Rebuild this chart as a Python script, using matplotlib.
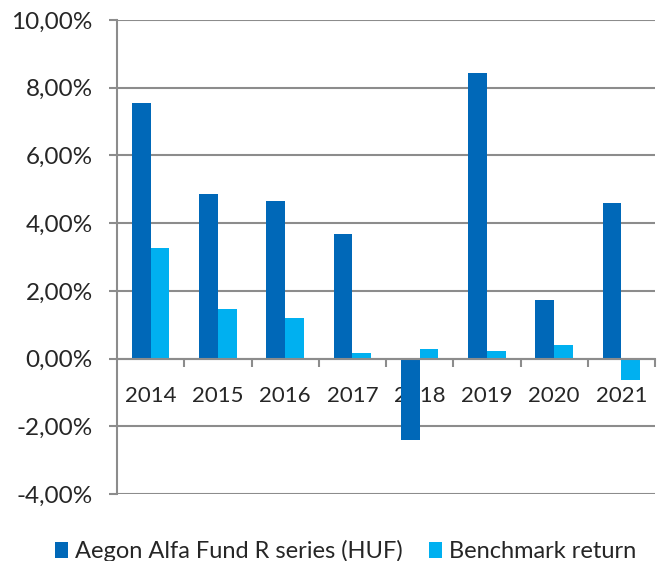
import matplotlib
matplotlib.use('Agg')
import matplotlib.pyplot as plt
import numpy as np
from matplotlib.ticker import FuncFormatter, FixedLocator

years = ['2014', '2015', '2016', '2017', '2018', '2019', '2020', '2021']
fund = [7.55, 4.86, 4.66, 3.68, -2.40, 8.45, 1.74, 4.59]
benchmark = [3.27, 1.45, 1.19, 0.17, 0.28, 0.21, 0.40, -0.62]
fund_label = 'Aegon Alfa Fund R series (HUF)'
bench_label = 'Benchmark return'

plt.rcParams['font.family'] = ['Lato', 'DejaVu Sans']

fig = plt.figure(figsize=(6.65, 5.61), dpi=100)
ax = fig.add_axes([0.176, 0.1194, 0.809, 0.8449])

x = np.arange(len(years))
width = 0.28
ax.bar(x - width / 2, fund, width, color='#0068B8', label=fund_label, zorder=3)
ax.bar(x + width / 2, benchmark, width, color='#00B0F0', label=bench_label, zorder=3)

grid_color = '#8C8C8C'
text_color = '#262626'
ax.set_ylim(-4, 10)
ax.set_xlim(-0.5, len(years) - 0.5)
ax.set_yticks(np.arange(-4, 10.1, 2))
ax.yaxis.set_major_formatter(FuncFormatter(lambda v, p: f'{v:.2f}%'.replace('.', ',')))
ax.grid(True, axis='y', color=grid_color, linewidth=1.5, zorder=0)

for s in ['top', 'right']:
    ax.spines[s].set_visible(False)
ax.spines['left'].set_color(grid_color)
ax.spines['left'].set_linewidth(1.5)
ax.spines['bottom'].set_position(('data', 0))
ax.spines['bottom'].set_color(grid_color)
ax.spines['bottom'].set_linewidth(1.5)
ax.spines['bottom'].set_zorder(4)

ax.set_xticks(x)
ax.set_xticklabels(years)
ax.xaxis.set_minor_locator(FixedLocator(np.arange(0.5, len(years), 1)))
ax.tick_params(axis='x', which='major', length=0, pad=20, labelsize=16, labelcolor=text_color)
ax.tick_params(axis='x', which='minor', length=5.5, width=1.5, color=grid_color, direction='out')
ax.tick_params(axis='y', length=5.5, width=1.5, color=grid_color, labelsize=17.5,
               labelcolor=text_color, pad=12)

fig.legend(loc='lower center', bbox_to_anchor=(0.52, -0.04), ncol=2, frameon=False,
           fontsize=17, handlelength=0.55, handleheight=0.65, handletextpad=0.3,
           columnspacing=1.1, labelcolor=text_color)

fig.savefig('out.png', dpi=100)
